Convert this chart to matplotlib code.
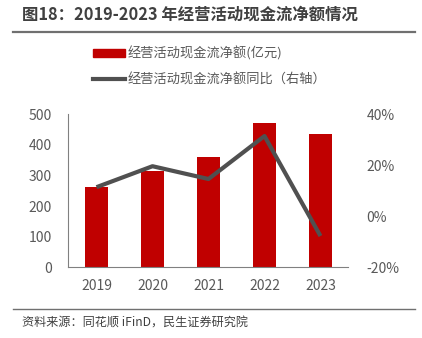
import matplotlib
matplotlib.use('Agg')
import matplotlib.pyplot as plt
from matplotlib.lines import Line2D

plt.rcParams['font.family'] = ['Noto Sans CJK SC', 'DejaVu Sans']

years = ['2019', '2020', '2021', '2022', '2023']
cash_flow = [261, 314, 359, 470, 434]
yoy_pct = [11.4, 19.6, 14.6, 31.4, -7.7]

bar_color = '#C00000'
line_color = '#505050'
text_color = '#595959'

fig = plt.figure(figsize=(4.22, 3.38), dpi=100)
ax = fig.add_axes([0.1623, 0.2086, 0.6635, 0.454])
ax2 = ax.twinx()

x = list(range(len(years)))
ax.bar(x, cash_flow, width=0.42, color=bar_color, zorder=2)
ax2.plot(x, yoy_pct, color=line_color, lw=3, solid_capstyle='butt', zorder=3)

ax.set_xlim(-0.5, 4.5)
ax.set_ylim(0, 500)
ax.set_yticks([0, 100, 200, 300, 400, 500])
ax2.set_ylim(-20, 40)
ax2.set_yticks([-20, 0, 20, 40])
ax2.set_yticklabels(['-20%', '0%', '20%', '40%'])
ax.set_xticks(x)
ax.set_xticklabels(years)

for a in (ax, ax2):
    for s in a.spines.values():
        s.set_visible(False)
    a.tick_params(length=0, labelsize=10, colors=text_color)
ax.spines['left'].set_visible(True)
ax.spines['bottom'].set_visible(True)
ax.spines['left'].set_color('#808080')
ax.spines['bottom'].set_color('#808080')
ax.tick_params(axis='y', pad=12)
ax.tick_params(axis='x', pad=8)
ax2.tick_params(axis='y', pad=13)
ax2.set_zorder(ax.get_zorder() + 1)
ax2.patch.set_visible(False)

# legend
handles = [plt.Rectangle((0, 0), 1, 1, color=bar_color),
           Line2D([0], [0], color=line_color, lw=3)]
labels = ['经营活动现金流净额(亿元)', '经营活动现金流净额同比（右轴）']
fig.legend(handles, labels, loc='upper left', bbox_to_anchor=(0.220, 0.863),
           frameon=False, fontsize=9.5, labelcolor=text_color,
           handlelength=2.4, handleheight=0.5, handletextpad=0.2,
           labelspacing=0.95, borderpad=0, borderaxespad=0)

# title and frame lines
fig.text(0.052, 0.958, '图18：2019-2023 年经营活动现金流净额情况', fontsize=11.8,
         fontweight='bold', color='#404040', va='center', ha='left')
fig.add_artist(Line2D([0.031, 0.983], [0.905, 0.905], color='#707070', lw=1.6))
fig.add_artist(Line2D([0.031, 0.983], [0.087, 0.087], color='#707070', lw=1.0))
fig.text(0.052, 0.043, '资料来源：同花顺 iFinD，民生证券研究院', fontsize=8.7,
         color='#404040', va='center', ha='left')

fig.savefig('out.png', dpi=100)
